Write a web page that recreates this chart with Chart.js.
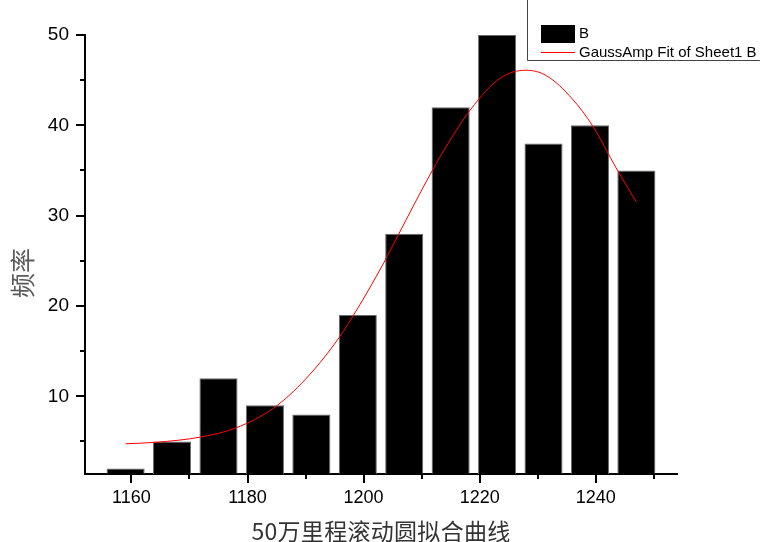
<!DOCTYPE html>
<html>
<head>
<meta charset="utf-8">
<script src="https://cdn.jsdelivr.net/npm/chart.js@4.4.1/dist/chart.umd.min.js"></script>
<style>
  html, body { margin: 0; padding: 0; background: #fff; }
  #wrap { width: 760px; height: 542px; }
</style>
</head>
<body>
<div id="wrap"><canvas id="chart" width="760" height="542"></canvas></div>
<script>
// Histogram: bin centres and counts
const binCenters = [1159, 1167, 1175, 1183, 1191, 1199, 1207, 1215, 1223, 1231, 1239, 1247];
const counts     = [2, 5, 12, 9, 8, 19, 28, 42, 50, 38, 40, 35];

// GaussAmp fit curve, sampled along x
const fitX = [1159, 1164, 1172, 1178, 1184.5, 1190, 1195, 1198, 1203.5, 1206, 1211.5, 1214,
              1218.5, 1223.5, 1228, 1231.5, 1236, 1239.5, 1243.5, 1247];
const fitY = [4.75, 4.9, 5.5, 6.5, 8.7, 11.9, 15.8, 18.7, 24.8, 27.9, 34.6, 37.4,
              41.8, 45.2, 46.1, 45.5, 42.9, 39.9, 35.3, 31.5];

// Axis ranges and tick steps
const xRange = [1152, 1254];
const yRange = [1.4, 50];
const xMinorStep = 10, xLabelStep = 20;
const yMinorStep = 5,  yLabelStep = 10;

const seriesNames = ['B', 'GaussAmp Fit of Sheet1 B'];
const xTitle = '50万里程滚动圆拟合曲线';
const yTitle = '频率';

const LATIN = '"Liberation Sans", Arial, sans-serif';
const CJK = '"Noto Sans CJK SC", "Liberation Sans", sans-serif';

// Outward tick marks (long at labelled values, short in between)
const axisTicks = {
  id: 'axisTicks',
  afterDraw(chart) {
    const { ctx, chartArea } = chart;
    const x = chart.scales.x, y = chart.scales.y;
    ctx.save();
    ctx.fillStyle = '#000';
    x.ticks.forEach(t => {
      const px = Math.round(x.getPixelForValue(t.value));
      const len = (t.value % xLabelStep === 0) ? 9 : 5;
      ctx.fillRect(px - 1, chartArea.bottom, 2, len);
    });
    y.ticks.forEach(t => {
      const py = Math.round(y.getPixelForValue(t.value));
      const len = (t.value % yLabelStep === 0) ? 9 : 5;
      ctx.fillRect(chartArea.left - len, py - 1, len, 2);
    });
    ctx.restore();
  }
};

// Legend box in the top-right corner
const cornerLegend = {
  id: 'cornerLegend',
  afterDraw(chart) {
    const { ctx } = chart;
    const bars = chart.data.datasets.find(d => d.type === 'bar');
    const fit = chart.data.datasets.find(d => d.type === 'line');
    ctx.save();
    ctx.strokeStyle = '#444';
    ctx.lineWidth = 1;
    ctx.beginPath();
    ctx.moveTo(527.5, 0);
    ctx.lineTo(527.5, 60.5);
    ctx.lineTo(760, 60.5);
    ctx.stroke();

    ctx.fillStyle = bars.backgroundColor;
    ctx.fillRect(541, 25, 34, 18);

    ctx.strokeStyle = fit.borderColor;
    ctx.beginPath();
    ctx.moveTo(541, 52.5);
    ctx.lineTo(575, 52.5);
    ctx.stroke();

    ctx.fillStyle = '#000';
    ctx.font = '15px ' + LATIN;
    ctx.textBaseline = 'middle';
    ctx.textAlign = 'left';
    ctx.fillText(bars.label, 579, 34);
    ctx.fillText(fit.label, 579, 53);
    ctx.restore();
  }
};

// Axis titles
const axisTitles = {
  id: 'axisTitles',
  afterDraw(chart) {
    const { ctx, chartArea } = chart;
    ctx.save();
    ctx.textAlign = 'center';
    ctx.textBaseline = 'middle';

    ctx.fillStyle = '#333';
    ctx.font = '23px ' + CJK;
    if ('letterSpacing' in ctx) ctx.letterSpacing = '0.3px';
    ctx.fillText(xTitle, (chartArea.left + chartArea.right) / 2, 531);
    if ('letterSpacing' in ctx) ctx.letterSpacing = '0px';

    ctx.fillStyle = '#5a5a5a';
    ctx.font = '25px ' + CJK;
    ctx.translate(22.5, 273);
    ctx.rotate(-Math.PI / 2);
    ctx.fillText(yTitle, 0, 0);
    ctx.restore();
  }
};

new Chart(document.getElementById('chart'), {
  type: 'bar',
  data: {
    datasets: [
      {
        type: 'line',
        label: seriesNames[1],
        data: fitX.map((x, i) => ({ x, y: fitY[i] })),
        borderColor: '#ff0000',
        borderWidth: 1,
        pointRadius: 0,
        fill: false,
        cubicInterpolationMode: 'monotone',
        order: 0
      },
      {
        type: 'bar',
        label: seriesNames[0],
        data: binCenters.map((x, i) => ({ x, y: counts[i] })),
        backgroundColor: '#000000',
        borderColor: '#6a6a6a',
        borderWidth: 1,
        barPercentage: 0.82,
        categoryPercentage: 1,
        clip: 0,
        order: 1
      }
    ]
  },
  options: {
    responsive: false,
    animation: false,
    devicePixelRatio: 1,
    layout: { padding: { top: 35, right: 83, left: 0, bottom: 0 } },
    plugins: { legend: { display: false }, tooltip: { enabled: false } },
    scales: {
      x: {
        type: 'linear',
        min: xRange[0],
        max: xRange[1],
        offset: false,
        afterFit(s) { s.height = 68; },
        ticks: {
          stepSize: xMinorStep,
          includeBounds: false,
          autoSkip: false,
          maxRotation: 0,
          color: '#000',
          padding: 4,
          font: { family: LATIN, size: 18 },
          callback: v => (v % xLabelStep === 0 ? String(v) : '')
        },
        grid: { display: true, drawOnChartArea: false, drawTicks: true, tickLength: 9,
                tickColor: 'rgba(0,0,0,0)', offset: false },
        border: { display: true, color: '#000', width: 2 },
        title: { display: false }
      },
      y: {
        type: 'linear',
        min: yRange[0],
        max: yRange[1],
        afterFit(s) { s.width = 85; },
        ticks: {
          stepSize: yMinorStep,
          includeBounds: false,
          autoSkip: false,
          color: '#000',
          padding: 7,
          font: { family: LATIN, size: 19 },
          callback: v => (v % yLabelStep === 0 ? String(v) : '')
        },
        grid: { display: true, drawOnChartArea: false, drawTicks: true, tickLength: 9,
                tickColor: 'rgba(0,0,0,0)' },
        border: { display: true, color: '#000', width: 2 },
        title: { display: false }
      }
    }
  },
  plugins: [axisTicks, cornerLegend, axisTitles]
});
</script>
</body>
</html>
